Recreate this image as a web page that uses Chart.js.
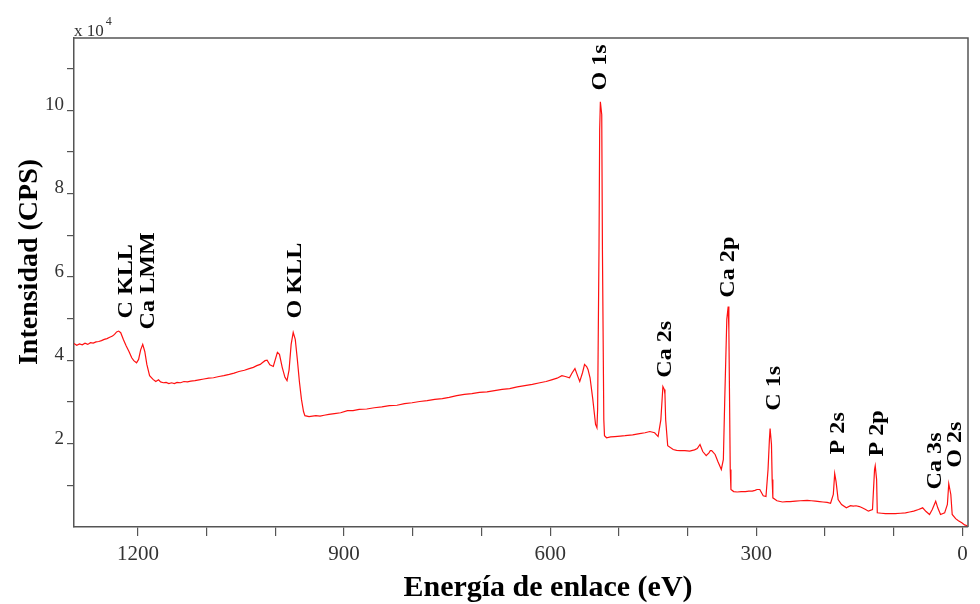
<!DOCTYPE html>
<html>
<head>
<meta charset="utf-8">
<script src="https://cdn.jsdelivr.net/npm/chart.js@4.4.1/dist/chart.umd.min.js"></script>
<style>
  body { margin: 0; background: #fff; }
</style>
</head>
<body>
<canvas id="xpsChart" width="980" height="604"></canvas>
<script>
// Binding energy (eV) and intensity (x 10^4 CPS)
const energy = [
  1293, 1289, 1285, 1281, 1277, 1273, 1269, 1265, 1261, 1257, 1253, 1249, 1245, 1241, 1237, 1234, 1231, 1228, 1225, 1221,
  1217, 1213, 1209, 1206, 1202, 1199, 1196, 1193, 1190, 1187, 1183, 1178, 1174, 1170, 1167, 1163, 1159, 1155, 1151, 1147,
  1143, 1138, 1133, 1128, 1123, 1117, 1111, 1104, 1097, 1090, 1082, 1075, 1067, 1060, 1053, 1045, 1038, 1032, 1027, 1022,
  1019, 1015, 1012, 1008, 1003, 1000, 997, 994, 990, 986, 983, 980, 977, 974, 971, 968, 965, 962, 959, 957,
  951, 946, 941, 935, 929, 922, 914, 905, 895, 887, 878, 867, 856, 845, 834, 823, 812, 801, 790, 779,
  768, 757, 747, 736, 725, 714, 703, 692, 681, 670, 659, 648, 637, 626, 615, 606, 598, 590, 583, 578,
  572, 568, 564, 560, 557, 553, 550, 547, 545, 542, 538, 534, 532, 531, 529, 528, 527, 525, 524, 522,
  521, 518, 512, 506, 498, 491, 480, 470, 462, 455, 448, 443, 439, 436, 434, 433, 432, 429, 421, 416,
  411, 404, 397, 390, 386, 382, 378, 373, 369, 367, 365, 360, 356, 351, 348, 346, 343, 341, 340, 338,
  337, 333, 328, 322, 316, 311, 306, 302, 299, 295, 290, 286, 283, 281, 280, 278, 277, 276, 270, 262,
  256, 251, 243, 236, 226, 220, 214, 208, 203, 197, 192, 188, 186, 184, 181, 176, 169, 163, 159, 155,
  150, 146, 141, 137, 131, 128, 127, 125, 124, 118, 112, 105, 98, 90, 83, 77, 71, 64, 58, 53,
  48, 44, 39, 36, 32, 26, 22, 20, 17, 15, 10, 6, 1, -3, -7
];
const intensity = [
  4.40, 4.36, 4.39, 4.37, 4.41, 4.38, 4.42, 4.41, 4.44, 4.45, 4.47, 4.50, 4.52, 4.55, 4.58, 4.62, 4.68, 4.70, 4.66, 4.49,
  4.34, 4.21, 4.06, 3.99, 3.94, 4.02, 4.25, 4.38, 4.21, 3.90, 3.63, 3.54, 3.49, 3.53, 3.48, 3.46, 3.47, 3.44, 3.46, 3.44,
  3.47, 3.46, 3.49, 3.48, 3.50, 3.51, 3.53, 3.55, 3.57, 3.58, 3.61, 3.63, 3.66, 3.69, 3.73, 3.76, 3.80, 3.83, 3.87, 3.90,
  3.94, 3.99, 4.00, 3.89, 3.85, 4.02, 4.19, 4.14, 3.83, 3.59, 3.51, 3.77, 4.38, 4.67, 4.50, 4.02, 3.49, 3.06, 2.77, 2.67,
  2.65, 2.66, 2.67, 2.66, 2.68, 2.70, 2.72, 2.74, 2.79, 2.79, 2.82, 2.83, 2.86, 2.88, 2.91, 2.92, 2.96, 2.98, 3.01, 3.03,
  3.06, 3.08, 3.11, 3.15, 3.18, 3.20, 3.23, 3.24, 3.27, 3.30, 3.32, 3.36, 3.39, 3.42, 3.46, 3.49, 3.53, 3.57, 3.63, 3.61,
  3.58, 3.70, 3.80, 3.62, 3.49, 3.70, 3.90, 3.85, 3.78, 3.58, 3.06, 2.46, 2.38, 2.82, 6.65, 9.54, 10.20, 9.89, 6.65, 2.58,
  2.19, 2.14, 2.16, 2.17, 2.18, 2.19, 2.21, 2.24, 2.26, 2.29, 2.26, 2.17, 2.57, 3.37, 3.30, 3.18, 2.58, 1.95, 1.86, 1.84,
  1.83, 1.83, 1.82, 1.85, 1.88, 1.98, 1.81, 1.71, 1.78, 1.83, 1.83, 1.74, 1.57, 1.38, 1.62, 3.06, 4.98, 5.29, 4.74, 1.38,
  0.90, 0.85, 0.84, 0.85, 0.85, 0.86, 0.86, 0.88, 0.90, 0.90, 0.75, 0.73, 1.38, 2.10, 2.36, 1.98, 1.14, 0.70, 0.63, 0.60,
  0.61, 0.61, 0.62, 0.63, 0.64, 0.63, 0.62, 0.61, 0.60, 0.59, 0.57, 0.78, 1.28, 1.09, 0.66, 0.54, 0.46, 0.51, 0.50, 0.51,
  0.49, 0.46, 0.42, 0.38, 0.42, 1.38, 1.47, 1.14, 0.34, 0.33, 0.32, 0.32, 0.32, 0.33, 0.34, 0.36, 0.38, 0.42, 0.46, 0.37,
  0.30, 0.42, 0.62, 0.46, 0.30, 0.34, 0.54, 1.04, 0.78, 0.30, 0.20, 0.15, 0.10, 0.05, 0.03
];

// Peak assignments, anchored at (energy, intensity) where the label starts
const peakNames = ['C KLL', 'Ca LMM', 'O KLL', 'O 1s', 'Ca 2s', 'Ca 2p', 'C 1s', 'P 2s', 'P 2p', 'Ca 3s', 'O 2s'];
const peakEnergy = [1216, 1184, 971, 526, 432, 340, 273, 181, 124, 39, 10];
const peakLevel = [5.00, 4.74, 5.00, 10.47, 3.58, 5.50, 2.79, 1.74, 1.69, 0.90, 1.42];

const xTickLabels = [1200, 900, 600, 300, 0];
const yTickLabels = [2, 4, 6, 8, 10];
// minor tick marks every 100 eV and every 1 x 10^4
const xTickMarks = [0, 100, 200, 300, 400, 500, 600, 700, 800, 900, 1000, 1100, 1200];
const yTickMarks = [1, 2, 3, 4, 5, 6, 7, 8, 9, 10, 11];

const serif = "'Liberation Serif', 'DejaVu Serif', serif";
const axisColor = '#555';

// text drawn on top: frame, peak names, multiplier and axis titles
const annotate = {
    id: 'annotate',
    afterDraw(chart) {
        const { ctx, chartArea: a, scales } = chart;
        ctx.save();

        // close the box on the top and right sides
        ctx.strokeStyle = axisColor;
        ctx.lineWidth = 1.5;
        ctx.beginPath();
        ctx.moveTo(a.left, a.top);
        ctx.lineTo(a.right, a.top);
        ctx.lineTo(a.right, a.bottom);
        ctx.stroke();

        // peak labels, rotated
        ctx.fillStyle = '#000';
        ctx.font = `bold 21px ${serif}`;
        ctx.textAlign = 'left';
        ctx.textBaseline = 'middle';
        peakNames.forEach((name, i) => {
            const px = scales.x.getPixelForValue(peakEnergy[i]);
            const py = scales.y.getPixelForValue(peakLevel[i]);
            ctx.save();
            ctx.translate(px, py);
            ctx.rotate(-Math.PI / 2);
            ctx.scale(1.15, 1);
            ctx.fillText(name, 0, 0);
            ctx.restore();
        });

        // x 10^4
        ctx.fillStyle = '#333';
        ctx.textBaseline = 'alphabetic';
        ctx.font = `17px ${serif}`;
        ctx.fillText('x 10', a.left, a.top - 2);
        const w = ctx.measureText('x 10').width;
        ctx.font = `12px ${serif}`;
        ctx.fillText('4', a.left + w + 2, a.top - 13);

        // axis titles
        ctx.fillStyle = '#000';
        ctx.font = `bold 30px ${serif}`;
        ctx.textAlign = 'center';
        ctx.fillText('Energía de enlace (eV)', 548, 596);

        ctx.save();
        ctx.translate(37, 262);
        ctx.rotate(-Math.PI / 2);
        ctx.font = `bold 28px ${serif}`;
        ctx.fillText('Intensidad (CPS)', 0, 0);
        ctx.restore();

        ctx.restore();
    }
};

const ctx = document.getElementById('xpsChart').getContext('2d');

const xpsChart = new Chart(ctx, {
    type: 'line',
    data: {
        datasets: [{
            label: 'XPS',
            data: energy.map((e, i) => ({ x: e, y: intensity[i] })),
            borderColor: '#ff1010',
            borderWidth: 1.2,
            pointRadius: 0,
            tension: 0,
            fill: false
        }]
    },
    options: {
        responsive: false,
        animation: false,
        layout: { padding: { top: 38, right: 12, left: 0, bottom: 0 } },
        plugins: {
            legend: { display: false },
            tooltip: { enabled: false }
        },
        scales: {
            x: {
                type: 'linear',
                reverse: true,
                min: -8,
                max: 1293,
                afterBuildTicks: scale => { scale.ticks = xTickMarks.map(v => ({ value: v })); },
                afterFit: scale => { scale.height = 77; },
                border: { color: axisColor, width: 1.5 },
                grid: { drawOnChartArea: false, tickLength: 9, color: axisColor, lineWidth: 1.2 },
                ticks: {
                    autoSkip: false,
                    maxRotation: 0,
                    padding: 6,
                    color: '#333',
                    font: { family: serif, size: 21 },
                    callback: v => xTickLabels.includes(v) ? String(v) : ''
                }
            },
            y: {
                min: 0,
                max: 11.73,
                afterBuildTicks: scale => { scale.ticks = yTickMarks.map(v => ({ value: v })); },
                afterFit: scale => { scale.width = 74; },
                border: { color: axisColor, width: 1.5 },
                grid: { drawOnChartArea: false, tickLength: 7, color: axisColor, lineWidth: 1.2 },
                ticks: {
                    autoSkip: false,
                    padding: 3,
                    labelOffset: -5,
                    color: '#333',
                    font: { family: serif, size: 19 },
                    callback: v => yTickLabels.includes(v) ? String(v) : ''
                }
            }
        }
    },
    plugins: [annotate]
});
</script>
</body>
</html>
